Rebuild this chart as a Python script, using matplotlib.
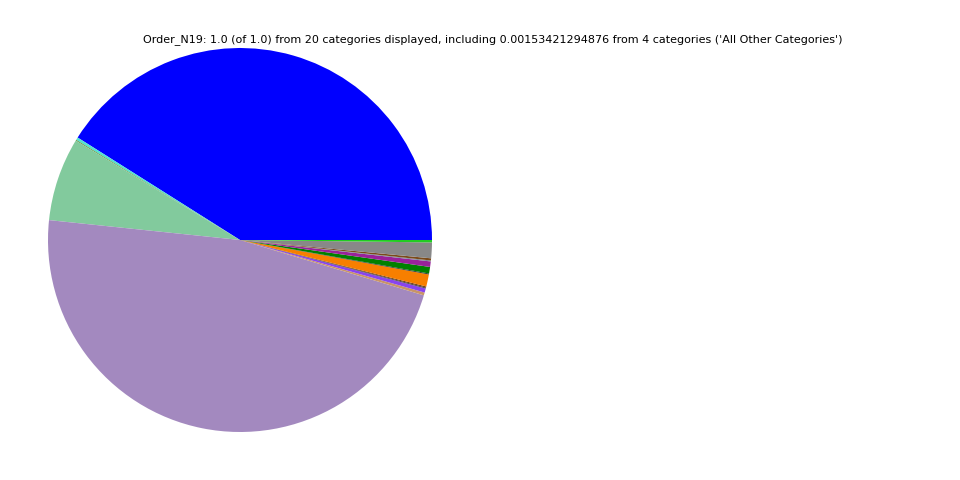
import matplotlib
matplotlib.use("Agg")
import matplotlib.pyplot as plt

# slice fractions, counterclockwise from 3 o'clock
labels = ["A", "B", "C", "D", "E", "F", "G", "H", "I", "J",
          "K", "L", "M", "N", "O", "P", "Q"]
values = [0.410, 0.0022, 0.0008, 0.0700, 0.4695, 0.0024, 0.0035, 0.0008,
          0.0009, 0.0102, 0.0008, 0.0055, 0.0046, 0.0008, 0.0018, 0.0132,
          0.0020]
colors = ["#0000ff", "#55e0d0", "#669944", "#82ca9d", "#a389bf", "#c89468",
          "#8844ee", "#444444", "#663311", "#f77f00", "#333333", "#008000",
          "#99229a", "#778899", "#7a4a1a", "#888888", "#22cc22"]

title = ("Order_N19: 1.0 (of 1.0) from 20 categories displayed, including "
         "0.00153421294876 from 4 categories ('All Other Categories')")

fig = plt.figure(figsize=(9.6, 4.8), dpi=100)
ax = fig.add_axes([0.05, 0.1, 0.4, 0.8])
ax.pie(values, colors=colors, startangle=0, counterclock=True)
ax.set_xlim(-1, 1)
ax.set_ylim(-1, 1)
ax.set_axis_off()

fig.text(493 / 960, 1 - 40 / 480, title, ha="center", va="center", fontsize=8)

fig.savefig("out.png", dpi=100)
